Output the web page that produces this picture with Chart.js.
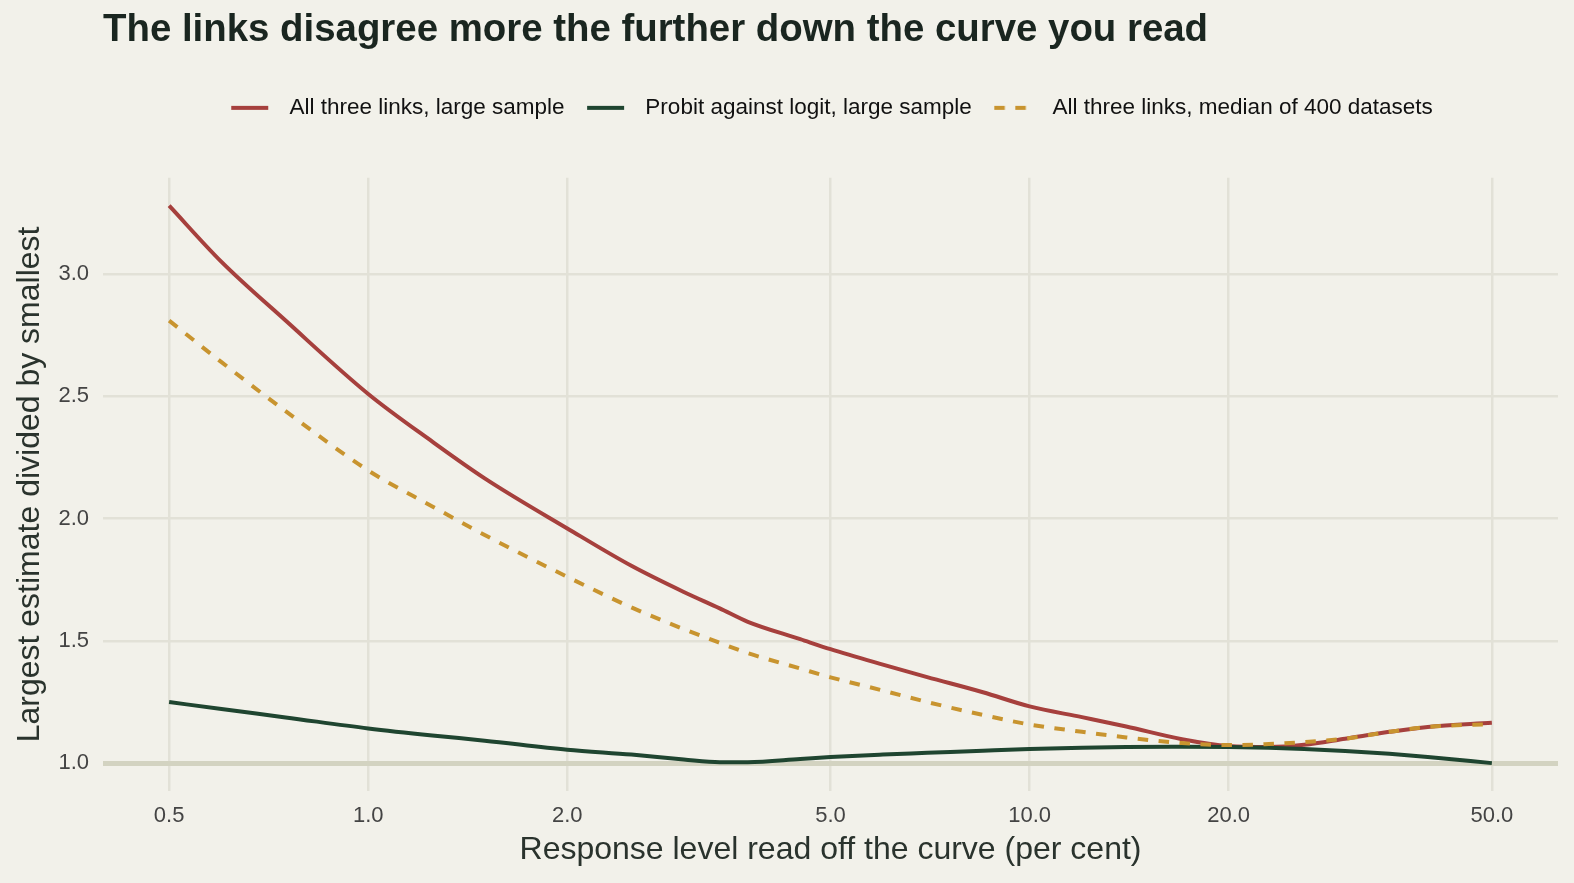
<!DOCTYPE html>
<html>
<head>
<meta charset="utf-8">
<script src="https://cdn.jsdelivr.net/npm/chart.js@4.4.1/dist/chart.umd.min.js"></script>
<style>
  html, body { margin: 0; padding: 0; background: #f2f1ea; overflow: hidden; }
  #wrap { width: 1574px; height: 883px; }
</style>
</head>
<body>
<div id="wrap"><canvas id="ratioChart"></canvas></div>
<script>
// Response level (per cent) the curve is read at
var levels = [0.5, 0.6, 0.75, 1, 1.25, 1.5, 2, 2.5, 3, 3.4, 3.75, 4.5, 5, 6, 7, 8.5, 10, 12, 14, 17, 20, 23, 26, 30, 35, 40, 50];
// Largest estimate divided by smallest
var allLinksLarge = [3.28, 3.05, 2.81, 2.51, 2.315, 2.165, 1.96, 1.807, 1.70, 1.633, 1.578, 1.507, 1.466, 1.403, 1.352, 1.29, 1.232, 1.188, 1.15, 1.098, 1.07, 1.066, 1.075, 1.10, 1.128, 1.148, 1.165];
var probitLogitLarge = [1.25, 1.221, 1.187, 1.142, 1.113, 1.092, 1.055, 1.035, 1.015, 1.004, 1.004, 1.017, 1.025, 1.035, 1.042, 1.051, 1.058, 1.063, 1.066, 1.067, 1.066, 1.063, 1.058, 1.05, 1.038, 1.025, 1.0];
var allLinksMedian = [2.81, 2.64, 2.44, 2.197, 2.05, 1.933, 1.762, 1.637, 1.548, 1.492, 1.45, 1.387, 1.351, 1.297, 1.25, 1.197, 1.158, 1.128, 1.105, 1.082, 1.074, 1.078, 1.086, 1.10, 1.128, 1.148, 1.16];

var xTicks = [0.5, 1, 2, 5, 10, 20, 50];
var yTicks = [1.0, 1.5, 2.0, 2.5, 3.0];

function toPoints(ys) {
    return levels.map(function (x, i) { return {x: x, y: ys[i]}; });
}

// small legend key: a short line with a little space either side
function legendKey(colour, dash) {
    var c = document.createElement('canvas');
    c.width = 50;
    c.height = 10;
    var g = c.getContext('2d');
    g.strokeStyle = colour;
    g.lineWidth = 4;
    g.setLineDash(dash);
    g.beginPath();
    g.moveTo(3, 5);
    g.lineTo(40, 5);
    g.stroke();
    return c;
}

var font = "'Liberation Sans', Arial, Helvetica, sans-serif";
var red = '#a6403d', green = '#1f4530', gold = '#c8942f';
var dashed = [10.5, 10.5];

document.addEventListener('DOMContentLoaded', function () {
    var ctx = document.getElementById('ratioChart').getContext('2d');
    new Chart(ctx, {
        type: 'line',
        data: {
            datasets: [
                {label: 'All three links, large sample', data: toPoints(allLinksLarge),
                 borderColor: red, borderWidth: 4, order: 3},
                {label: 'Probit against logit, large sample', data: toPoints(probitLogitLarge),
                 borderColor: green, borderWidth: 4, order: 2},
                {label: 'All three links, median of 400 datasets', data: toPoints(allLinksMedian),
                 borderColor: gold, borderWidth: 4, borderDash: dashed, order: 1}
            ]
        },
        options: {
            responsive: true,
            maintainAspectRatio: false,
            animation: false,
            layout: {padding: {left: 0, right: 16, top: 0, bottom: 0}},
            elements: {
                point: {radius: 0, hoverRadius: 0},
                line: {cubicInterpolationMode: 'monotone', borderCapStyle: 'butt', fill: false}
            },
            plugins: {
                tooltip: {enabled: false},
                title: {
                    display: true,
                    fullSize: false,
                    align: 'start',
                    text: 'The links disagree more the further down the curve you read',
                    color: '#1a2620',
                    font: {family: font, size: 38.4, weight: 'bold', lineHeight: 1.2},
                    padding: {top: 7, bottom: 24}
                },
                subtitle: {
                    // empty spacer between legend and plot
                    display: true,
                    fullSize: false,
                    weight: 500,
                    text: '',
                    font: {size: 1, lineHeight: 1},
                    padding: {top: 0, bottom: 47.75}
                },
                legend: {
                    display: true,
                    position: 'top',
                    fullSize: false,
                    labels: {
                        usePointStyle: true,
                        pointStyleWidth: 50,
                        padding: 19.5,
                        color: '#111111',
                        font: {family: font, size: 22.5},
                        sort: function (a, b) { return a.datasetIndex - b.datasetIndex; },
                        generateLabels: function (chart) {
                            return chart.data.datasets.map(function (ds, i) {
                                return {
                                    text: ds.label,
                                    datasetIndex: i,
                                    fontColor: '#111111',
                                    pointStyle: legendKey(ds.borderColor, ds.borderDash || []),
                                    hidden: false
                                };
                            });
                        }
                    }
                }
            },
            scales: {
                x: {
                    type: 'logarithmic',
                    min: 0.5 / Math.pow(10, 0.1),
                    max: 50 * Math.pow(10, 0.1),
                    afterBuildTicks: function (axis) {
                        axis.ticks = xTicks.map(function (v) { return {value: v}; });
                    },
                    afterFit: function (axis) { axis.height = 92; },
                    border: {display: false},
                    grid: {color: '#e2e1d7', lineWidth: 2.5, drawTicks: false},
                    ticks: {
                        padding: 12,
                        color: '#444444',
                        font: {family: font, size: 22},
                        autoSkip: false,
                        maxRotation: 0,
                        callback: function (v) { return Number(v).toFixed(1); }
                    },
                    title: {
                        display: true,
                        text: 'Response level read off the curve (per cent)',
                        color: '#2a332d',
                        font: {family: font, size: 32, lineHeight: 1.2},
                        padding: {top: 0, bottom: 14}
                    }
                },
                y: {
                    type: 'linear',
                    min: 0.886,
                    max: 3.394,
                    afterBuildTicks: function (axis) {
                        axis.ticks = yTicks.map(function (v) { return {value: v}; });
                    },
                    afterFit: function (axis) { axis.width = 103; },
                    border: {display: false},
                    grid: {
                        drawTicks: false,
                        color: function (c) { return c.tick && c.tick.value === 1 ? '#d3d3c1' : '#e2e1d7'; },
                        lineWidth: function (c) { return c.tick && c.tick.value === 1 ? 5 : 2.5; }
                    },
                    ticks: {
                        padding: 14,
                        color: '#444444',
                        font: {family: font, size: 22},
                        callback: function (v) { return Number(v).toFixed(1); }
                    },
                    title: {
                        display: true,
                        text: 'Largest estimate divided by smallest',
                        color: '#2a332d',
                        font: {family: font, size: 32, lineHeight: 1.2},
                        padding: {top: 11, bottom: 0}
                    }
                }
            }
        }
    });
});
</script>
</body>
</html>
